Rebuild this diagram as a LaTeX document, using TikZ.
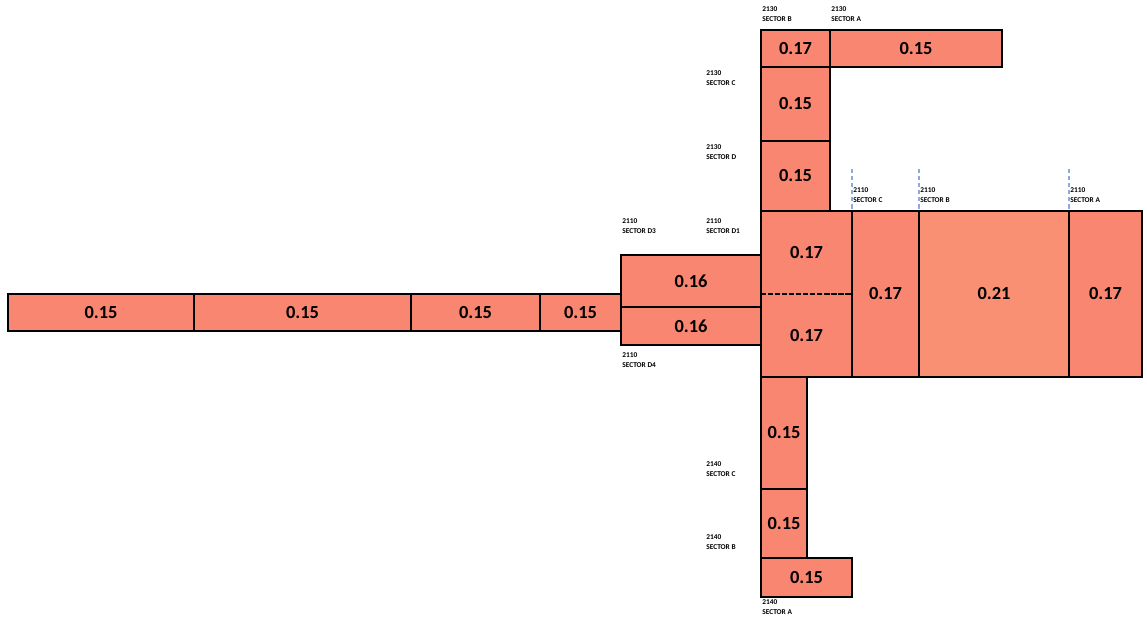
\documentclass[tikz,border=0pt]{standalone}
\usepackage{fontspec}
\setmainfont{Carlito}
\usepackage{xcolor}
\definecolor{salmon}{HTML}{F98670}
\definecolor{salmonlt}{HTML}{F99074}
\definecolor{guide}{HTML}{8EA9DB}

\begin{document}
\begin{tikzpicture}[
    x=0.02cm,
    y=-0.02cm,
    cell/.style={
        draw,
        fill=salmon,
        line width=1.1pt
    },
    val/.style={
        font=\bfseries\fontsize{10.5}{12}\selectfont,
        inner sep=0pt
    },
    tag/.style={
        font=\bfseries\fontsize{4.2}{5.7}\selectfont,
        anchor=north west,
        align=left,
        inner sep=0pt
    },
    guideline/.style={
        draw=guide,
        dash pattern=on 2.5pt off 1.5pt,
        line width=0.9pt
    }
]
\useasboundingbox (0,0) rectangle (1147,621);

% Area 2130
\draw[cell] (761,30) rectangle (830,67) node[val,midway] (s2130b) {0.17};
\draw[cell] (830,30) rectangle (1002,67) node[val,midway] (s2130a) {0.15};
\draw[cell] (761,67) rectangle (830,141) node[val,midway] (s2130c) {0.15};
\draw[cell] (761,141) rectangle (830,211) node[val,midway] (s2130d) {0.15};

% Area 2110
\draw[cell] (761,211) rectangle (852,377);
\node[val] (s2110d1up) at (806.5,252.5) {0.17};
\node[val] (s2110d1lo) at (806.5,335.5) {0.17};
\draw[dash pattern=on 3pt off 1pt, line width=0.6pt] (761,294) -- (852,294);
\draw[cell] (852,211) rectangle (919,377) node[val,midway] (s2110c) {0.17};
\draw[cell, fill=salmonlt] (919,211) rectangle (1069,377) node[val,midway] (s2110b) {0.21};
\draw[cell] (1069,211) rectangle (1142,377) node[val,midway] (s2110a) {0.17};
\draw[cell] (621,255) rectangle (761,307) node[val,midway] (s2110d3) {0.16};
\draw[cell] (621,307) rectangle (761,345) node[val,midway] (s2110d4) {0.16};

% Left strip
\draw[cell] (8,294) rectangle (194,331) node[val,midway] (strip1) {0.15};
\draw[cell] (194,294) rectangle (411,331) node[val,midway] (strip2) {0.15};
\draw[cell] (411,294) rectangle (540,331) node[val,midway] (strip3) {0.15};
\draw[cell] (540,294) rectangle (621,331) node[val,midway] (strip4) {0.15};

% Area 2140
\draw[cell] (761,377) rectangle (807,489) node[val,midway] (s2140c) {0.15};
\draw[cell] (761,489) rectangle (807,558) node[val,midway] (s2140b) {0.15};
\draw[cell] (761,558) rectangle (852,597) node[val,midway] (s2140a) {0.15};

% Guides
\foreach \x in {852,919,1069}
    \draw[guideline] (\x,169) -- (\x,211);

% Labels
\node[tag] (t2130b) at (762,6) {2130\\SECTOR B};
\node[tag] (t2130a) at (831,6) {2130\\SECTOR A};
\node[tag] (t2130c) at (706,70) {2130\\SECTOR C};
\node[tag] (t2130d) at (706,144) {2130\\SECTOR D};
\node[tag] (t2110c) at (853,187) {2110\\SECTOR C};
\node[tag] (t2110b) at (920,187) {2110\\SECTOR B};
\node[tag] (t2110a) at (1070,187) {2110\\SECTOR A};
\node[tag] (t2110d3) at (622,218) {2110\\SECTOR D3};
\node[tag] (t2110d1) at (706,218) {2110\\SECTOR D1};
\node[tag] (t2110d4) at (622,352) {2110\\SECTOR D4};
\node[tag] (t2140c) at (706,461) {2140\\SECTOR C};
\node[tag] (t2140b) at (706,534) {2140\\SECTOR B};
\node[tag] (t2140a) at (762,599) {2140\\SECTOR A};

\end{tikzpicture}
\end{document}
